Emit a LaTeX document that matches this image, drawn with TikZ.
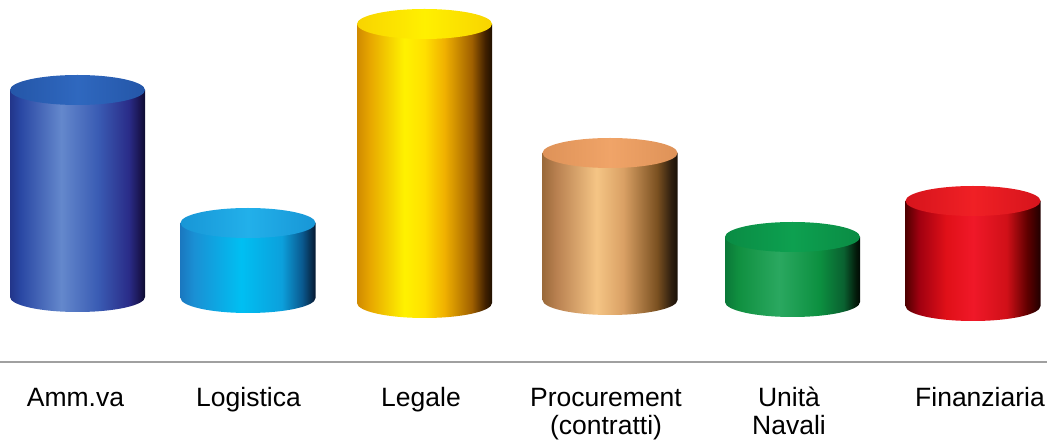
\documentclass[tikz,border=0pt]{standalone}
\usepackage{fontspec}
\setmainfont{Liberation Sans}
\usetikzlibrary{calc}
% body shadings: path width maps to 25bp..75bp
\pgfdeclarehorizontalshading{ammsh}{100bp}{color(0bp)=(rgb,255:red,34;green,53;blue,138); color(25bp)=(rgb,255:red,34;green,53;blue,138); color(29bp)=(rgb,255:red,42;green,72;blue,164); color(44bp)=(rgb,255:red,100;green,136;blue,204); color(57.5bp)=(rgb,255:red,58;green,92;blue,180); color(69bp)=(rgb,255:red,42;green,44;blue,136); color(73bp)=(rgb,255:red,26;green,21;blue,80); color(75bp)=(rgb,255:red,12;green,12;blue,48); color(100bp)=(rgb,255:red,12;green,12;blue,48)}
\pgfdeclarehorizontalshading{logsh}{100bp}{color(0bp)=(rgb,255:red,26;green,120;blue,192); color(25bp)=(rgb,255:red,26;green,120;blue,192); color(30bp)=(rgb,255:red,26;green,144;blue,212); color(47.5bp)=(rgb,255:red,0;green,191;blue,242); color(62.5bp)=(rgb,255:red,12;green,160;blue,220); color(70bp)=(rgb,255:red,10;green,90;blue,144); color(75bp)=(rgb,255:red,6;green,24;blue,48); color(100bp)=(rgb,255:red,6;green,24;blue,48)}
\pgfdeclarehorizontalshading{legsh}{100bp}{color(0bp)=(rgb,255:red,208;green,138;blue,0); color(25bp)=(rgb,255:red,208;green,138;blue,0); color(30bp)=(rgb,255:red,232;green,168;blue,0); color(42.5bp)=(rgb,255:red,255;green,242;blue,0); color(50bp)=(rgb,255:red,255;green,224;blue,0); color(57.5bp)=(rgb,255:red,240;green,176;blue,0); color(67.5bp)=(rgb,255:red,160;green,96;blue,0); color(72.5bp)=(rgb,255:red,64;green,32;blue,0); color(75bp)=(rgb,255:red,32;green,16;blue,0); color(100bp)=(rgb,255:red,32;green,16;blue,0)}
\pgfdeclarehorizontalshading{procsh}{100bp}{color(0bp)=(rgb,255:red,154;green,106;blue,58); color(25bp)=(rgb,255:red,154;green,106;blue,58); color(30bp)=(rgb,255:red,184;green,128;blue,80); color(45bp)=(rgb,255:red,245;green,197;blue,133); color(55bp)=(rgb,255:red,217;green,160;blue,100); color(67.5bp)=(rgb,255:red,122;green,80;blue,32); color(72.5bp)=(rgb,255:red,48;green,32;blue,16); color(75bp)=(rgb,255:red,26;green,16;blue,8); color(100bp)=(rgb,255:red,26;green,16;blue,8)}
\pgfdeclarehorizontalshading{navsh}{100bp}{color(0bp)=(rgb,255:red,10;green,120;blue,56); color(25bp)=(rgb,255:red,10;green,120;blue,56); color(30bp)=(rgb,255:red,16;green,144;blue,64); color(45bp)=(rgb,255:red,42;green,168;blue,96); color(60bp)=(rgb,255:red,12;green,144;blue,64); color(69bp)=(rgb,255:red,10;green,96;blue,48); color(73.5bp)=(rgb,255:red,3;green,26;blue,10); color(75bp)=(rgb,255:red,2;green,10;blue,4); color(100bp)=(rgb,255:red,2;green,10;blue,4)}
\pgfdeclarehorizontalshading{finsh}{100bp}{color(0bp)=(rgb,255:red,80;green,0;blue,0); color(25bp)=(rgb,255:red,80;green,0;blue,0); color(30bp)=(rgb,255:red,160;green,0;blue,16); color(40bp)=(rgb,255:red,224;green,16;blue,24); color(50bp)=(rgb,255:red,240;green,24;blue,40); color(62.5bp)=(rgb,255:red,208;green,16;blue,24); color(70bp)=(rgb,255:red,96;green,0;blue,0); color(75bp)=(rgb,255:red,32;green,0;blue,0); color(100bp)=(rgb,255:red,32;green,0;blue,0)}
\definecolor{ammtop}{RGB}{47,104,191}
\definecolor{ammtopd}{RGB}{36,86,168}
\definecolor{logtop}{RGB}{34,176,234}
\definecolor{logtopd}{RGB}{24,150,214}
\definecolor{legtop}{RGB}{255,240,0}
\definecolor{legtopd}{RGB}{248,212,0}
\definecolor{proctop}{RGB}{240,164,104}
\definecolor{proctopd}{RGB}{222,146,88}
\definecolor{navtop}{RGB}{13,160,80}
\definecolor{navtopd}{RGB}{10,140,68}
\definecolor{fintop}{RGB}{240,32,37}
\definecolor{fintopd}{RGB}{214,20,28}
\definecolor{rulegray}{RGB}{160,160,160}
% #1 shading, #2 top colour, #3 top edge colour, #4 cx, #5 top y, #6 bottom y
\newcommand{\mycyl}[6]{%
  \path[shading=#1] (#4-67.5,#5) -- (#4-67.5,#6)
    arc[start angle=180,end angle=360,x radius=67.5,y radius=15]
    -- (#4+67.5,#5) -- cycle;
  \path[left color=#3,right color=#3,middle color=#2] (#4,#5) ellipse[x radius=67.5,y radius=15];
}
\tikzset{lbl/.style={anchor=base,align=center,font=\fontsize{26.5}{28}\selectfont,inner sep=0pt}}
\begin{document}
\begin{tikzpicture}[x=1pt,y=1pt]
\useasboundingbox (0,0) rectangle (1047,442);
\mycyl{ammsh}{ammtop}{ammtopd}{77.5}{352}{145}
\mycyl{logsh}{logtop}{logtopd}{248}{219}{144}
\mycyl{legsh}{legtop}{legtopd}{424.5}{418}{139}
\mycyl{procsh}{proctop}{proctopd}{610}{289}{142}
\mycyl{navsh}{navtop}{navtopd}{792.5}{205}{140}
\mycyl{finsh}{fintop}{fintopd}{973}{241}{136}
\coordinate (la) at (0,80);
\coordinate (lb) at (1047,80);
\draw[draw=rulegray,line width=2.5pt] (la) -- (lb);
\node[lbl] (amm) at (75.5,36) {Amm.va};
\node[lbl] (log) at (248.5,36) {Logistica};
\node[lbl] (leg) at (421,36) {Legale};
\node[lbl] (proc) at (606,8) {Procurement\\(contratti)};
\node[lbl] (nav) at (789,8) {Unità\\Navali};
\node[lbl] (fin) at (980,36) {Finanziaria};
\end{tikzpicture}
\end{document}
